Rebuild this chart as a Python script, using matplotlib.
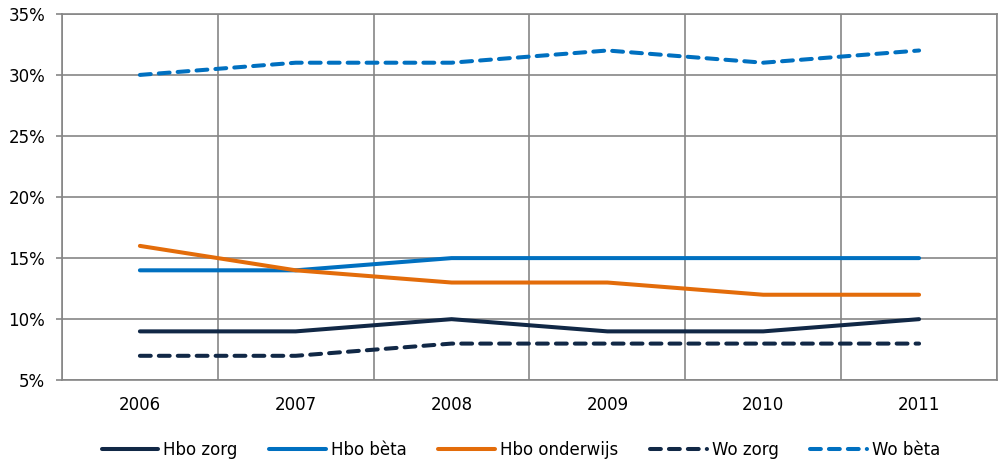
import matplotlib.pyplot as plt
import numpy as np
from matplotlib.ticker import FuncFormatter

jaren = ['2006', '2007', '2008', '2009', '2010', '2011']
hbo_zorg = [9, 9, 10, 9, 9, 10]
hbo_beta = [14, 14, 15, 15, 15, 15]
hbo_onderwijs = [16, 14, 13, 13, 12, 12]
wo_zorg = [7, 7, 8, 8, 8, 8]
wo_beta = [30, 31, 31, 32, 31, 32]

navy = '#112846'
blauw = '#0070C0'
oranje = '#E36C0A'
grijs = '#868686'

plt.rcParams['font.family'] = ['DejaVu Sans']
fig = plt.figure(figsize=(9.98, 4.62), dpi=100)
ax = fig.add_axes([0.0621, 0.177, 0.9369, 0.793])

x = np.arange(len(jaren))
lw = 2.9
streep = (2.7, 2.0)
ax.plot(x, hbo_zorg, color=navy, lw=lw, solid_capstyle='round', label='Hbo zorg')
ax.plot(x, hbo_beta, color=blauw, lw=lw, solid_capstyle='round', label='Hbo bèta')
ax.plot(x, hbo_onderwijs, color=oranje, lw=lw, solid_capstyle='round', label='Hbo onderwijs')
ax.plot(x, wo_zorg, color=navy, lw=lw, dashes=streep, dash_capstyle='round', label='Wo zorg')
ax.plot(x, wo_beta, color=blauw, lw=lw, dashes=streep, dash_capstyle='round', label='Wo bèta')

ax.set_xlim(-0.5, len(jaren) - 0.5)
ax.set_ylim(5, 35)
ax.set_yticks(range(5, 36, 5))
ax.yaxis.set_major_formatter(FuncFormatter(lambda v, p: '%d%%' % v))
ax.set_xticks(x)
ax.set_xticklabels(jaren)
ax.set_xticks(np.arange(-0.5, len(jaren), 1), minor=True)

ax.grid(axis='y', which='major', color=grijs, lw=1.2)
ax.grid(axis='x', which='minor', color=grijs, lw=1.2)
ax.set_axisbelow(True)
for s in ax.spines.values():
    s.set_color(grijs)
    s.set_linewidth(1.2)
ax.tick_params(axis='y', which='major', length=4, color=grijs, width=1.2, labelsize=12, pad=8)
ax.tick_params(axis='x', which='major', length=0, labelsize=12, pad=11)
ax.tick_params(axis='x', which='minor', length=0)

fig.legend(loc='center', bbox_to_anchor=(0.522, 0.027), ncol=5, frameon=False,
           fontsize=12, handlelength=3.4, columnspacing=1.9, handletextpad=0.3)

fig.savefig('out.png', dpi=100)
